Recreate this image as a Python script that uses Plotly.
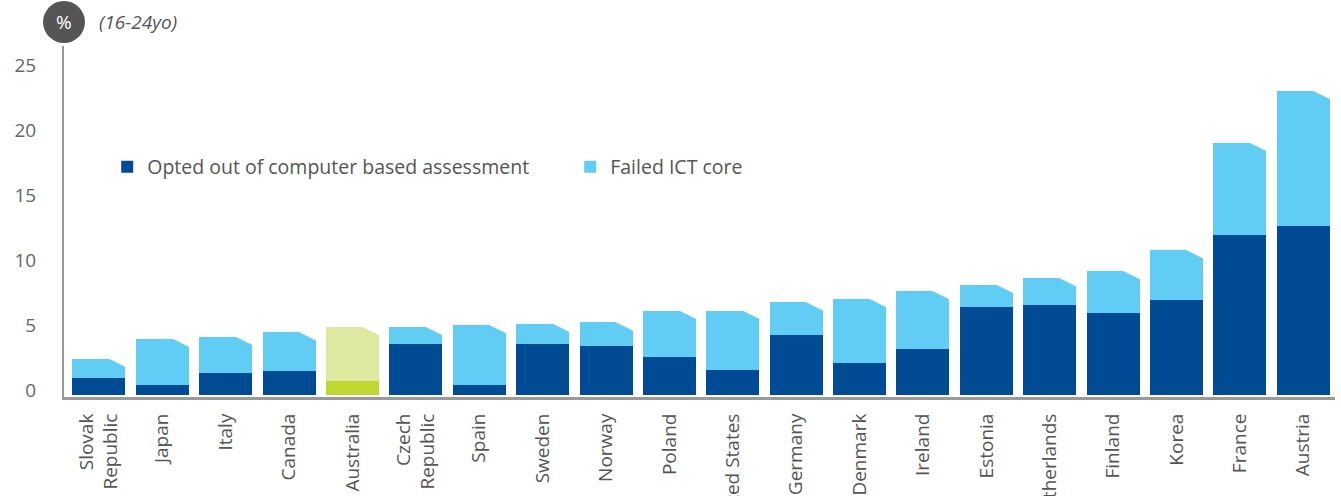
import plotly.graph_objects as go

# Young adults (16-24yo) who opted out of computer based assessment / failed ICT core
countries = ["Slovak<br>Republic", "Japan", "Italy", "Canada", "Australia", "Czech<br>Republic",
             "Spain", "Sweden", "Norway", "Poland", "United States", "Germany", "Denmark",
             "Ireland", "Estonia", "Netherlands", "Finland", "Korea", "France", "Austria"]
opted_out = [1.3, 0.8, 1.7, 1.85, 1.1, 3.9, 0.8, 3.95, 3.8, 2.9,
             1.9, 4.6, 2.45, 3.55, 6.8, 6.95, 6.3, 7.3, 12.3, 13.0]
failed_ict = [1.5, 3.55, 2.8, 3.0, 4.15, 1.35, 4.6, 1.55, 1.8, 3.6,
              4.6, 2.55, 4.95, 4.45, 1.7, 2.05, 3.25, 3.85, 7.1, 10.4]
y_ticks = [0, 5, 10, 15, 20, 25]

DARK = "#004B93"
LIGHT = "#62CDF4"
AUS_DARK = "#BFD730"
AUS_LIGHT = "#DEE8A0"
TXT = "#555555"
FONT = "Open Sans"

xs = list(range(len(countries)))
dark_cols = [AUS_DARK if "Australia" in c else DARK for c in countries]
light_cols = [AUS_LIGHT if "Australia" in c else LIGHT for c in countries]

fig = go.Figure()
fig.add_trace(go.Bar(x=xs, y=opted_out, name="Opted out of computer based assessment",
                     marker=dict(color=dark_cols, line=dict(width=0))))
fig.add_trace(go.Bar(x=xs, y=failed_ict, name="Failed ICT core",
                     marker=dict(color=light_cols, line=dict(width=0))))

# white corner cut on top-right of each bar
hw = 0.418
cut_w = 0.284
drop = 0.69
tx, ty = [], []
for i, (a, b) in enumerate(zip(opted_out, failed_ict)):
    top = a + b
    tx += [i + hw - cut_w, i + hw + 0.02, i + hw + 0.02, i + hw - cut_w, None]
    ty += [top + 0.05, top + 0.05, top - drop, top + 0.05, None]
fig.add_trace(go.Scatter(x=tx, y=ty, mode="lines", fill="toself", fillcolor="white",
                         line=dict(width=0, color="white"), showlegend=False, hoverinfo="skip"))

fig.update_layout(
    barmode="stack",
    bargap=0.164,
    width=1341, height=496,
    margin=dict(l=64, r=6, t=46, b=99),
    plot_bgcolor="white", paper_bgcolor="white",
    font=dict(family=FONT, color=TXT, size=18),
    legend=dict(orientation="h", x=0.034, y=0.655, xanchor="left", yanchor="middle",
                font=dict(size=19.5, color=TXT), entrywidth=418, entrywidthmode="pixels",
                traceorder="normal", bgcolor="rgba(0,0,0,0)"),
    xaxis=dict(range=[-0.55, 19.5], tickmode="array", tickvals=xs, ticktext=countries,
               tickangle=-90, showgrid=False, zeroline=False, showline=True,
               linecolor="#999999", linewidth=3, ticks="", automargin=False,
               tickfont=dict(size=19, color=TXT), ticklabelstandoff=6),
    yaxis=dict(range=[-0.15, 26.85], tickmode="array", tickvals=y_ticks,
               showgrid=False, zeroline=False, showline=True, linecolor="#999999",
               linewidth=2, ticks="", automargin=False, ticklabelshift=-5,
               ticklabelstandoff=22, tickfont=dict(size=19, color="#666666")),
    showlegend=True,
)

# "%" badge and unit note
fig.add_shape(type="circle", xref="paper", yref="paper", xsizemode="pixel", ysizemode="pixel",
              xanchor=0, yanchor=1, x0=-21, x1=21, y0=3, y1=45,
              fillcolor="#555555", line=dict(width=0))
fig.add_annotation(xref="paper", yref="paper", x=0, y=1, yshift=24, xanchor="center",
                   yanchor="middle", text="%", showarrow=False,
                   font=dict(size=19, color="white", family=FONT))
fig.add_annotation(xref="paper", yref="paper", x=0.026, y=1, yshift=24, xanchor="left",
                   yanchor="middle", text="<i>(16-24yo)</i>", showarrow=False,
                   font=dict(size=19, color=TXT, family=FONT))

fig.write_html("out.html", config={"displayModeBar": False},
               post_script="document.body.style.margin='0';")
